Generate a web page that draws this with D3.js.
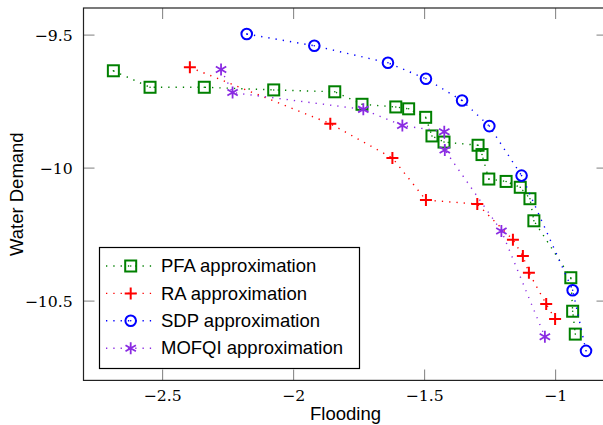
<!DOCTYPE html>
<html><head><meta charset="utf-8">
<script src="https://cdn.jsdelivr.net/npm/d3@7"></script>
<style>body{margin:0;background:#fff}svg{display:block}.tick text{font-family:"DejaVu Serif","Liberation Serif",serif !important}</style>
</head><body>
<svg id="chart" width="603" height="425"></svg>
<script>
// ---- data ----
const seriesNames = ["PFA approximation", "RA approximation", "SDP approximation", "MOFQI approximation"];
const pfaX = [-2.686,-2.546,-2.339,-2.074,-1.841,-1.737,-1.608,-1.559,-1.494,-1.470,-1.424,-1.294,-1.279,-1.253,-1.187,-1.133,-1.096,-1.081,-0.940,-0.933,-0.923];
const pfaY = [-9.636,-9.698,-9.698,-9.708,-9.715,-9.762,-9.772,-9.779,-9.811,-9.881,-9.904,-9.916,-9.951,-10.043,-10.052,-10.074,-10.117,-10.200,-10.414,-10.540,-10.626];
const raX = [-2.394,-1.858,-1.621,-1.493,-1.297,-1.161,-1.123,-1.100,-1.034,-1.000];
const raY = [-9.623,-9.835,-9.964,-10.122,-10.137,-10.271,-10.332,-10.395,-10.513,-10.569];
const sdpX = [-2.177,-1.919,-1.638,-1.493,-1.355,-1.251,-1.128,-0.933,-0.882];
const sdpY = [-9.498,-9.542,-9.606,-9.666,-9.748,-9.844,-10.030,-10.461,-10.689];
const mofqiX = [-2.275,-2.231,-1.732,-1.583,-1.423,-1.421,-1.205,-1.039];
const mofqiY = [-9.631,-9.718,-9.781,-9.842,-9.865,-9.934,-10.238,-10.636];
const xTicks = [-2.5, -2, -1.5, -1];
const yTicks = [-9.5, -10, -10.5];
const xLabel = "Flooding";
const yLabel = "Water Demand";

// ---- layout ----
const L = 83.5, R = 607.5, T = 8, B = 380.4;
const svg = d3.select("#chart");
const x = d3.scaleLinear().domain([-2.8, -0.8]).range([L, R]);
const y = d3.scaleLinear().domain([-10.8, -9.4]).range([B, T]);
const fmt = d => String(d).replace("-", "\u2212");
const tickLen = 11, tickColor = "#8a8a8a";

// ticks (all four sides, inward)
const axB = svg.append("g").attr("transform", `translate(0,${B})`)
  .call(d3.axisBottom(x).tickValues(xTicks).tickSize(-tickLen).tickFormat(fmt));
const axT = svg.append("g").attr("transform", `translate(0,${T})`)
  .call(d3.axisTop(x).tickValues(xTicks).tickSize(-tickLen).tickFormat(""));
const axL = svg.append("g").attr("transform", `translate(${L},0)`)
  .call(d3.axisLeft(y).tickValues(yTicks).tickSize(-tickLen).tickFormat(fmt));
const axR = svg.append("g").attr("transform", `translate(${R},0)`)
  .call(d3.axisRight(y).tickValues(yTicks).tickSize(-tickLen).tickFormat(""));
[axB, axT, axL, axR].forEach(a => {
  a.attr("font-family", "DejaVu Serif");
  a.select(".domain").remove();
  a.selectAll(".tick line").attr("stroke", tickColor).attr("stroke-width", 1.1);
});
axB.selectAll(".tick text").attr("y", 20.5).attr("dy", 0)
  .attr("font-family", "DejaVu Serif").attr("font-size", 15.7).attr("fill", "#000");
axL.selectAll(".tick text").attr("x", -10.8).attr("dy", "0.36em")
  .attr("font-family", "DejaVu Serif").attr("font-size", 15.7).attr("fill", "#000");

// frame
svg.append("rect").attr("x", L).attr("y", T).attr("width", R - L).attr("height", B - T)
  .attr("fill", "none").attr("stroke", "#222").attr("stroke-width", 1.2);

// axis labels
svg.append("text").attr("x", (L + R) / 2).attr("y", 420.3).attr("text-anchor", "middle")
  .attr("font-family", "Liberation Sans").attr("font-size", 18.5).text(xLabel);
svg.append("text").attr("transform", `translate(22.5,${(T + B) / 2}) rotate(-90)`)
  .attr("text-anchor", "middle")
  .attr("font-family", "Liberation Sans").attr("font-size", 18.5).text(yLabel);

// markers
function drawMarker(g, type, cx, cy, color) {
  const s = 6;
  if (type === "square") {
    g.append("rect").attr("x", cx - 5.5).attr("y", cy - 5.5).attr("width", 11).attr("height", 11)
      .attr("fill", "none").attr("stroke", color).attr("stroke-width", 2);
    g.append("circle").attr("cx", cx).attr("cy", cy).attr("r", 0.8).attr("fill", color);
  } else if (type === "circle") {
    g.append("circle").attr("cx", cx).attr("cy", cy).attr("r", 5.3)
      .attr("fill", "none").attr("stroke", color).attr("stroke-width", 2);
    g.append("circle").attr("cx", cx).attr("cy", cy).attr("r", 0.8).attr("fill", color);
  } else if (type === "plus") {
    g.append("path").attr("d", `M${cx - s},${cy}H${cx + s}M${cx},${cy - s}V${cy + s}`)
      .attr("stroke", color).attr("stroke-width", 2).attr("fill", "none");
  } else if (type === "star") {
    let d = "";
    [90, 30, 150].forEach(a => {
      const r = a * Math.PI / 180, dx = s * Math.cos(r), dy = s * Math.sin(r);
      d += `M${cx - dx},${cy - dy}L${cx + dx},${cy + dy}`;
    });
    g.append("path").attr("d", d).attr("stroke", color).attr("stroke-width", 1.8).attr("fill", "none");
  }
}

const series = [
  {name: seriesNames[0], xs: pfaX, ys: pfaY, color: "#008000", marker: "square"},
  {name: seriesNames[1], xs: raX, ys: raY, color: "#ff0000", marker: "plus"},
  {name: seriesNames[2], xs: sdpX, ys: sdpY, color: "#0000ff", marker: "circle"},
  {name: seriesNames[3], xs: mofqiX, ys: mofqiY, color: "#8a2be2", marker: "star"}
];

const line = d3.line().x(d => x(d[0])).y(d => y(d[1]));
series.forEach(s => {
  const pts = s.xs.map((v, i) => [v, s.ys[i]]);
  const g = svg.append("g");
  g.append("path").attr("d", line(pts)).attr("fill", "none").attr("stroke", s.color)
    .attr("stroke-width", 1.4).attr("stroke-dasharray", "1.3,6").attr("stroke-linecap", "butt");
  pts.forEach(p => drawMarker(g, s.marker, x(p[0]), y(p[1]), s.color));
});

// legend
const lg = svg.append("g");
lg.append("rect").attr("x", 99.5).attr("y", 247.5).attr("width", 260).attr("height", 121)
  .attr("fill", "#fff").attr("stroke", "#000").attr("stroke-width", 1.2);
series.forEach((s, i) => {
  const cy = 266 + i * 27.4;
  lg.append("path").attr("d", `M106,${cy}H155`).attr("stroke", s.color).attr("stroke-width", 1.4)
    .attr("stroke-dasharray", "1.3,6").attr("fill", "none");
  drawMarker(lg, s.marker, 130.7, cy, s.color);
  lg.append("text").attr("x", 161).attr("y", cy + 6.2)
    .attr("font-family", "Liberation Sans").attr("font-size", 18.5).text(s.name);
});
</script>
</body></html>
